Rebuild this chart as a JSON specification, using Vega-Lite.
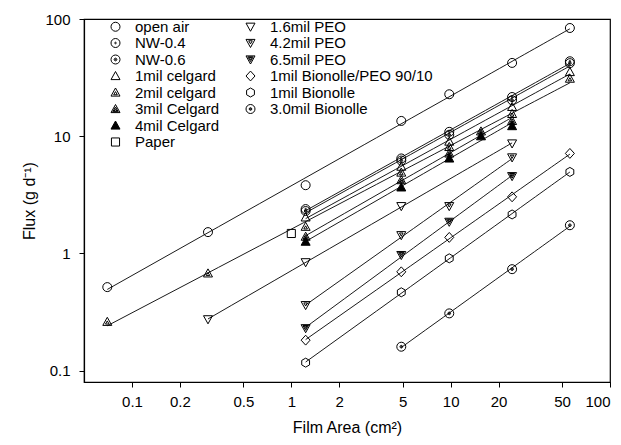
{
  "$schema": "https://vega.github.io/schema/vega-lite/v6.json",
  "width": 526,
  "height": 363,
  "autosize": {"type": "none"},
  "padding": {"left": 84, "top": 19, "right": 11, "bottom": 63},
  "background": "white",
  "config": {
    "view": {"stroke": "black", "strokeWidth": 1.2},
    "font": "Liberation Sans",
    "axis": {
      "grid": false, "domainColor": "black", "tickColor": "black", "labelColor": "black", "titleColor": "black",
      "labelFont": "Liberation Sans", "titleFont": "Liberation Sans", "labelFontSize": 15, "titleFontSize": 16,
      "titleFontWeight": "normal", "tickSize": 5, "domainWidth": 1.2
    },
    "legend": {
      "labelFontSize": 15, "labelFont": "Liberation Sans", "labelColor": "black", "symbolSize": 81,
      "symbolStrokeColor": "black", "symbolStrokeWidth": 1, "rowPadding": 0.5, "columnPadding": 23,
      "labelOffset": 12, "labelLimit": 300, "padding": 0
    }
  },
  "data": {"values": [
    {"s": "open air", "a": 0.07, "f": 0.516},
    {"s": "open air", "a": 0.3, "f": 1.52},
    {"s": "open air", "a": 1.23, "f": 3.82},
    {"s": "open air", "a": 4.9, "f": 13.5},
    {"s": "open air", "a": 9.8, "f": 22.8},
    {"s": "open air", "a": 24.3, "f": 42.2},
    {"s": "open air", "a": 56, "f": 83.8},
    {"s": "NW-0.4", "a": 1.23, "f": 2.39},
    {"s": "NW-0.4", "a": 4.9, "f": 6.46},
    {"s": "NW-0.4", "a": 9.8, "f": 10.9},
    {"s": "NW-0.4", "a": 24.3, "f": 21.6},
    {"s": "NW-0.4", "a": 56, "f": 43.6},
    {"s": "NW-0.6", "a": 1.23, "f": 2.3},
    {"s": "NW-0.6", "a": 4.9, "f": 6.2},
    {"s": "NW-0.6", "a": 9.8, "f": 10.3},
    {"s": "NW-0.6", "a": 24.3, "f": 20.3},
    {"s": "NW-0.6", "a": 56, "f": 42},
    {"s": "1mil celgard", "a": 1.23, "f": 2.03},
    {"s": "1mil celgard", "a": 4.9, "f": 5.5},
    {"s": "1mil celgard", "a": 9.8, "f": 9.0},
    {"s": "1mil celgard", "a": 24.3, "f": 17.8},
    {"s": "1mil celgard", "a": 56, "f": 35.3},
    {"s": "2mil celgard", "a": 0.07, "f": 0.261},
    {"s": "2mil celgard", "a": 0.3, "f": 0.676},
    {"s": "2mil celgard", "a": 1.23, "f": 1.69},
    {"s": "2mil celgard", "a": 4.9, "f": 4.9},
    {"s": "2mil celgard", "a": 9.8, "f": 8.1},
    {"s": "2mil celgard", "a": 24.3, "f": 15.5},
    {"s": "2mil celgard", "a": 56, "f": 31.0},
    {"s": "3mil Celgard", "a": 1.23, "f": 1.39},
    {"s": "3mil Celgard", "a": 4.9, "f": 4.22},
    {"s": "3mil Celgard", "a": 9.8, "f": 7.13},
    {"s": "3mil Celgard", "a": 15.5, "f": 11.0},
    {"s": "3mil Celgard", "a": 24.3, "f": 13.5},
    {"s": "4mil Celgard", "a": 1.23, "f": 1.26},
    {"s": "4mil Celgard", "a": 4.9, "f": 3.66},
    {"s": "4mil Celgard", "a": 9.8, "f": 6.46},
    {"s": "4mil Celgard", "a": 15.5, "f": 10.0},
    {"s": "4mil Celgard", "a": 24.3, "f": 12.2},
    {"s": "Paper", "a": 1.0, "f": 1.48},
    {"s": "1.6mil PEO", "a": 0.3, "f": 0.274},
    {"s": "1.6mil PEO", "a": 1.23, "f": 0.84},
    {"s": "1.6mil PEO", "a": 4.9, "f": 2.53},
    {"s": "1.6mil PEO", "a": 24.3, "f": 8.67},
    {"s": "4.2mil PEO", "a": 1.23, "f": 0.362},
    {"s": "4.2mil PEO", "a": 4.9, "f": 1.43},
    {"s": "4.2mil PEO", "a": 9.8, "f": 2.53},
    {"s": "4.2mil PEO", "a": 24.3, "f": 6.59},
    {"s": "6.5mil PEO", "a": 1.23, "f": 0.23},
    {"s": "6.5mil PEO", "a": 4.9, "f": 0.968},
    {"s": "6.5mil PEO", "a": 9.8, "f": 1.86},
    {"s": "6.5mil PEO", "a": 24.3, "f": 4.56},
    {"s": "1mil Bionolle/PEO 90/10", "a": 1.23, "f": 0.182},
    {"s": "1mil Bionolle/PEO 90/10", "a": 4.9, "f": 0.697},
    {"s": "1mil Bionolle/PEO 90/10", "a": 9.8, "f": 1.37},
    {"s": "1mil Bionolle/PEO 90/10", "a": 24.3, "f": 3.04},
    {"s": "1mil Bionolle/PEO 90/10", "a": 56, "f": 7.13},
    {"s": "1mil Bionolle", "a": 1.23, "f": 0.117},
    {"s": "1mil Bionolle", "a": 4.9, "f": 0.466},
    {"s": "1mil Bionolle", "a": 9.8, "f": 0.908},
    {"s": "1mil Bionolle", "a": 24.3, "f": 2.15},
    {"s": "1mil Bionolle", "a": 56, "f": 4.96},
    {"s": "3.0mil Bionolle", "a": 4.9, "f": 0.16},
    {"s": "3.0mil Bionolle", "a": 9.8, "f": 0.308},
    {"s": "3.0mil Bionolle", "a": 24.3, "f": 0.734},
    {"s": "3.0mil Bionolle", "a": 56, "f": 1.74}
  ]},
  "layer": [
    {
      "transform": [
        {"filter": "datum.s !== 'Paper'"},
        {"regression": "f", "on": "a", "groupby": ["s"], "method": "pow"}
      ],
      "mark": {"type": "line", "color": "black", "strokeWidth": 0.9},
      "encoding": {
        "x": {"field": "a", "type": "quantitative", "scale": {"type": "log", "domain": [0.05, 100], "nice": false, "zero": false},
          "axis": {"values": [0.1, 0.2, 0.5, 1, 2, 5, 10, 20, 50, 100], "format": "~g", "title": "Film Area (cm²)", "labelPadding": 7, "titlePadding": 10}},
        "y": {"field": "f", "type": "quantitative", "scale": {"type": "log", "domain": [0.08, 100], "nice": false, "zero": false},
          "axis": {"values": [0.1, 1, 10, 100], "format": "~g", "title": "Flux (g d⁻¹)", "labelPadding": 9, "titlePadding": 7}},
        "detail": {"field": "s"}
      }
    },
    {
      "mark": {"type": "point", "filled": true, "strokeWidth": 1, "size": 81, "opacity": 1},
      "encoding": {
        "x": {"field": "a", "type": "quantitative"},
        "y": {"field": "f", "type": "quantitative"},
        "shape": {
          "field": "s", "type": "nominal",
          "scale": {
            "domain": ["open air", "NW-0.4", "NW-0.6", "1mil celgard", "2mil celgard", "3mil Celgard", "4mil Celgard", "Paper", "1.6mil PEO", "4.2mil PEO", "6.5mil PEO", "1mil Bionolle/PEO 90/10", "1mil Bionolle", "3.0mil Bionolle", "zz1", "zz2"],
            "range": [
              "M1,0A1,1,0,1,1,-1,0A1,1,0,1,1,1,0Z",
              "M1,0A1,1,0,1,1,-1,0A1,1,0,1,1,1,0ZM0.18,0A0.18,0.18,0,1,1,-0.18,0A0.18,0.18,0,1,1,0.18,0Z",
              "M1,0A1,1,0,1,1,-1,0A1,1,0,1,1,1,0ZM0.3,0A0.3,0.3,0,1,1,-0.3,0A0.3,0.3,0,1,1,0.3,0ZM0.1,0A0.1,0.1,0,1,1,-0.1,0A0.1,0.1,0,1,1,0.1,0Z",
              "M0,-1L1,0.8L-1,0.8Z",
              "M0,-1L1,0.8L-1,0.8ZM0,-0.2L0.4,0.5L-0.4,0.5Z",
              "M0,-1L1,0.8L-1,0.8ZM0,-0.45L0.6,0.6L-0.6,0.6ZM0,-0.05L0.3,0.45L-0.3,0.45Z",
              "M0,-1L1,0.8L-1,0.8Z",
              "M-0.9,-0.9H0.9V0.9H-0.9Z",
              "M0,1L1,-0.8L-1,-0.8Z",
              "M0,1L1,-0.8L-1,-0.8ZM0,0.2L0.4,-0.5L-0.4,-0.5Z",
              "M0,1L1,-0.8L-1,-0.8ZM0,0.45L0.6,-0.6L-0.6,-0.6ZM0,0.05L0.3,-0.45L-0.3,-0.45Z",
              "M0,-1.1L1,0L0,1.1L-1,0Z",
              "M0,-1L0.87,-0.5L0.87,0.5L0,1L-0.87,0.5L-0.87,-0.5Z",
              "M1,0A1,1,0,1,1,-1,0A1,1,0,1,1,1,0ZM0.3,0A0.3,0.3,0,1,1,-0.3,0A0.3,0.3,0,1,1,0.3,0ZM0.1,0A0.1,0.1,0,1,1,-0.1,0A0.1,0.1,0,1,1,0.1,0Z",
              "M0,0",
              "M0,0"
            ]
          },
          "legend": {
            "orient": "none", "legendX": 24, "legendY": 0, "direction": "vertical", "columns": 2, "title": null,
            "labelExpr": "indexof(datum.label, 'zz') == 0 ? '' : datum.label"
          }
        },
        "fill": {
          "field": "s", "type": "nominal",
          "scale": {
            "domain": ["open air", "NW-0.4", "NW-0.6", "1mil celgard", "2mil celgard", "3mil Celgard", "4mil Celgard", "Paper", "1.6mil PEO", "4.2mil PEO", "6.5mil PEO", "1mil Bionolle/PEO 90/10", "1mil Bionolle", "3.0mil Bionolle", "zz1", "zz2"],
            "range": ["transparent", "transparent", "transparent", "transparent", "transparent", "transparent", "black", "transparent", "transparent", "transparent", "transparent", "transparent", "transparent", "transparent", "transparent", "transparent"]
          },
          "legend": {
            "orient": "none", "legendX": 24, "legendY": 0, "direction": "vertical", "columns": 2, "title": null,
            "labelExpr": "indexof(datum.label, 'zz') == 0 ? '' : datum.label"
          }
        },
        "stroke": {
          "field": "s", "type": "nominal",
          "scale": {
            "domain": ["open air", "NW-0.4", "NW-0.6", "1mil celgard", "2mil celgard", "3mil Celgard", "4mil Celgard", "Paper", "1.6mil PEO", "4.2mil PEO", "6.5mil PEO", "1mil Bionolle/PEO 90/10", "1mil Bionolle", "3.0mil Bionolle", "zz1", "zz2"],
            "range": ["black", "black", "black", "black", "black", "black", "black", "black", "black", "black", "black", "black", "black", "black", "black", "black"]
          },
          "legend": {
            "orient": "none", "legendX": 24, "legendY": 0, "direction": "vertical", "columns": 2, "title": null,
            "labelExpr": "indexof(datum.label, 'zz') == 0 ? '' : datum.label"
          }
        }
      }
    }
  ]
}
